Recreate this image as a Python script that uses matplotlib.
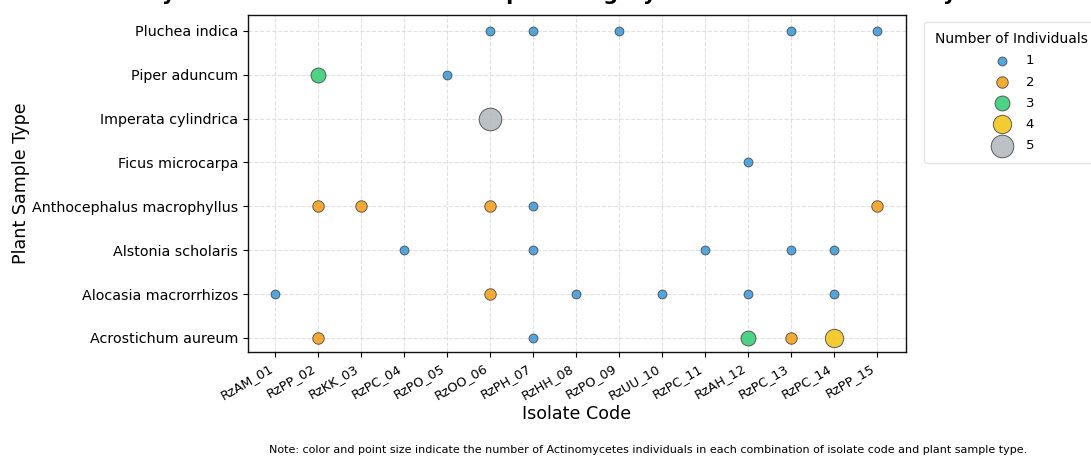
import numpy as np
import pandas as pd
import matplotlib
matplotlib.use('Agg')
import matplotlib.pyplot as plt

# categories
isolates = ['RzAM_01', 'RzPP_02', 'RzKK_03', 'RzPC_04', 'RzPO_05', 'RzOO_06', 'RzPH_07', 'RzHH_08',
            'RzPO_09', 'RzUU_10', 'RzPC_11', 'RzAH_12', 'RzPC_13', 'RzPC_14', 'RzPP_15']
plants = ['Acrostichum aureum', 'Alocasia macrorrhizos', 'Alstonia scholaris',
          'Anthocephalus macrophyllus', 'Ficus microcarpa', 'Imperata cylindrica',
          'Piper aduncum', 'Pluchea indica']

# observations: (plant, isolate, count)
obs_plant = ['Pluchea indica'] * 5 + ['Piper aduncum'] * 2 + ['Imperata cylindrica'] + ['Ficus microcarpa'] \
    + ['Anthocephalus macrophyllus'] * 5 + ['Alstonia scholaris'] * 5 + ['Alocasia macrorrhizos'] * 6 \
    + ['Acrostichum aureum'] * 5
obs_isolate = ['RzOO_06', 'RzPH_07', 'RzPO_09', 'RzPC_13', 'RzPP_15',
               'RzPP_02', 'RzPO_05',
               'RzOO_06',
               'RzAH_12',
               'RzPP_02', 'RzKK_03', 'RzOO_06', 'RzPH_07', 'RzPP_15',
               'RzPC_04', 'RzPH_07', 'RzPC_11', 'RzPC_13', 'RzPC_14',
               'RzAM_01', 'RzOO_06', 'RzHH_08', 'RzUU_10', 'RzAH_12', 'RzPC_14',
               'RzPP_02', 'RzPH_07', 'RzAH_12', 'RzPC_13', 'RzPC_14']
obs_count = [1, 1, 1, 1, 1,
             3, 1,
             5,
             1,
             2, 2, 2, 1, 2,
             1, 1, 1, 1, 1,
             1, 2, 1, 1, 1, 1,
             2, 1, 3, 2, 4]

df = pd.DataFrame({'plant': obs_plant, 'isolate': obs_isolate, 'count': obs_count})
df['x'] = df['isolate'].map({k: i for i, k in enumerate(isolates)})
df['y'] = df['plant'].map({k: i for i, k in enumerate(plants)})

# style per count
colors = {1: '#3498db', 2: '#f39c12', 3: '#2ecc71', 4: '#f1c40f', 5: '#b0b7bb'}
sizes = {1: 40, 2: 68, 3: 115, 4: 175, 5: 265}

fig = plt.figure(figsize=(10.91, 4.57), dpi=100)
ax = fig.add_axes([248 / 1091, 1 - 352 / 457, (906 - 248) / 1091, (352 - 15) / 457])

for c in [1, 2, 3, 4, 5]:
    sub = df[df['count'] == c]
    ax.scatter(sub['x'], sub['y'], s=sizes[c], c=colors[c], alpha=0.85,
               edgecolors='#444444', linewidths=0.7, label=str(c), zorder=3)

ax.set_xticks(range(len(isolates)))
ax.set_xticklabels(isolates, rotation=30, ha='right', fontsize=9.3)
ax.set_yticks(range(len(plants)))
ax.set_yticklabels(plants, fontsize=10.3)
ax.set_xlim(-0.63, 14.67)
ax.set_ylim(-0.32, 7.36)
ax.grid(True, linestyle='--', color='#cccccc', alpha=0.6, linewidth=0.8)
ax.set_axisbelow(True)
for sp in ax.spines.values():
    sp.set_linewidth(1.0)
    sp.set_color('#111111')

ax.set_xlabel('Isolate Code', fontsize=12.6, labelpad=2)
ax.set_ylabel('Plant Sample Type', fontsize=12.6)
ax.yaxis.set_label_coords(-0.332, 0.5)

leg = ax.legend(title='Number of Individuals', loc='upper left', bbox_to_anchor=(1.018, 1.0),
                fontsize=9.5, title_fontsize=10, frameon=True, labelspacing=0.62, borderpad=0.8)
leg.get_frame().set_edgecolor('#dddddd')

fig.text(577 / 1091, 1.0, 'Distribution by Isolate Code and Plant Sample Category: Bubble Plot of Actinomycetes Individuals',
         ha='center', va='baseline', fontsize=15, fontweight='bold')
fig.text(648 / 1091, 1 - 450 / 457,
         'Note: color and point size indicate the number of Actinomycetes individuals in each combination of isolate code and plant sample type.',
         ha='center', va='center', fontsize=8)

fig.savefig('out.png', dpi=100)
